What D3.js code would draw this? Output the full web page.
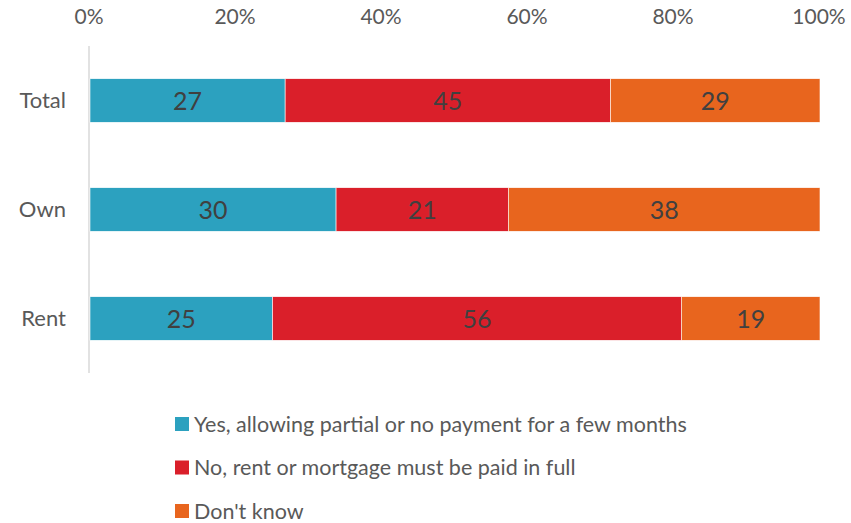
<!DOCTYPE html>
<html>
<head>
<meta charset="utf-8">
<script src="https://cdn.jsdelivr.net/npm/d3@7"></script>
<style>
  body { margin: 0; background: #fff; }
  text { font-family: Lato, "Open Sans", sans-serif; }
</style>
</head>
<body>
<div class="container"></div>
<script>
const width = 851;
const height = 523;

const categories = ['Total', 'Own', 'Rent'];
const seriesNames = ['Yes, allowing partial or no payment for a few months',
                     'No, rent or mortgage must be paid in full',
                     "Don't know"];
const yesValues = [27, 30, 25];
const noValues = [45, 21, 56];
const dkValues = [29, 38, 19];
const tickLabels = ['0%', '20%', '40%', '60%', '80%', '100%'];
const colors = ['#2CA1BF', '#DA1F2A', '#E8651E'];

// each bar is filled to 100% (values are shares of the row total)
const rows = categories.map((c, i) => {
    const vals = [yesValues[i], noValues[i], dkValues[i]];
    const total = d3.sum(vals);
    let acc = 0;
    return vals.map((v, j) => {
        const seg = { cat: c, value: v, x0: acc / total, x1: (acc + v) / total, color: colors[j] };
        acc += v;
        return seg;
    });
});

var svg = d3.select('.container')
    .append('svg')
    .attr('width', width)
    .attr('height', height);

var scaleX = d3.scaleLinear()
    .domain([0, 1])
    .range([90, 820]);

var scaleY = d3.scaleBand()
    .domain(categories)
    .range([46, 373])
    .paddingInner(0.6)
    .paddingOuter(0.3);

// top tick labels
svg.append('g')
    .selectAll('text')
    .data(tickLabels)
    .enter()
    .append('text')
    .attr('x', (d, i) => scaleX(i / 5) - 1)
    .attr('y', 23.5)
    .attr('text-anchor', 'middle')
    .style('font-size', '21px')
    .style('fill', '#595959')
    .text(d => d);

// vertical axis line
svg.append('line')
    .attr('x1', scaleX(0) - 1)
    .attr('x2', scaleX(0) - 1)
    .attr('y1', 46)
    .attr('y2', 373)
    .style('stroke', '#d9d9d9')
    .style('stroke-width', 1.5);

// category labels
svg.append('g')
    .selectAll('text')
    .data(categories)
    .enter()
    .append('text')
    .attr('x', 66)
    .attr('y', d => scaleY(d) + scaleY.bandwidth() / 2)
    .attr('dy', '0.35em')
    .attr('text-anchor', 'end')
    .style('font-size', '22px')
    .style('fill', '#595959')
    .text(d => d);

const segs = rows.flat();

svg.append('g')
    .selectAll('rect')
    .data(segs)
    .enter()
    .append('rect')
    .attr('x', d => scaleX(d.x0))
    .attr('y', d => scaleY(d.cat))
    .attr('width', d => scaleX(d.x1) - scaleX(d.x0))
    .attr('height', scaleY.bandwidth())
    .style('fill', d => d.color)
    .style('stroke', '#fff')
    .style('stroke-width', 0.6);

svg.append('g')
    .selectAll('text')
    .data(segs)
    .enter()
    .append('text')
    .attr('x', d => (scaleX(d.x0) + scaleX(d.x1)) / 2)
    .attr('y', d => scaleY(d.cat) + scaleY.bandwidth() / 2)
    .attr('dy', '0.36em')
    .attr('text-anchor', 'middle')
    .style('font-size', '25px')
    .style('fill', '#404040')
    .text(d => d.value);

// legend
var legend = svg.append('g')
    .selectAll('g')
    .data(seriesNames)
    .enter()
    .append('g')
    .attr('transform', (d, i) => 'translate(175,' + (424 + i * 43.5) + ')');

legend.append('rect')
    .attr('x', 0)
    .attr('y', -7)
    .attr('width', 14)
    .attr('height', 14)
    .style('fill', (d, i) => colors[i]);

legend.append('text')
    .attr('x', 19)
    .attr('y', 0)
    .attr('dy', '0.35em')
    .style('font-size', '21.5px')
    .style('fill', '#595959')
    .text(d => d);
</script>
</body>
</html>
